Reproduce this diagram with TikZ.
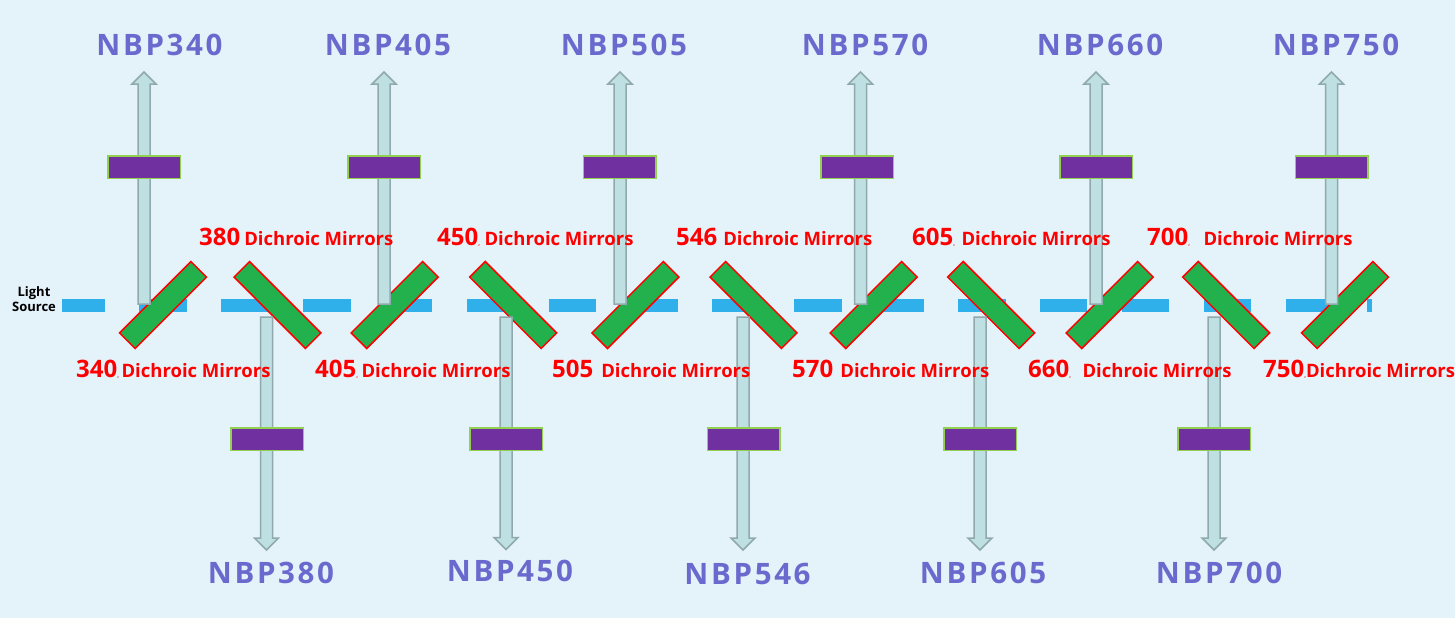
\documentclass[tikz,border=0pt]{standalone}
\usepackage{fontspec}
\setmainfont{Open Sans}
\newfontfamily\nbpfont[LetterSpace=9]{Open Sans}
\usetikzlibrary{calc}
\pgfdeclarelayer{linelayer}
\pgfdeclarelayer{mirrorlayer}
\pgfsetlayers{linelayer,mirrorlayer,main}
\definecolor{bgblue}{HTML}{E4F2FA}
\definecolor{lightblue}{HTML}{2FB0EB}
\definecolor{mirrorgreen}{HTML}{22B14C}
\definecolor{mirrorred}{HTML}{FF0000}
\definecolor{beamfill}{HTML}{BEE0E3}
\definecolor{beamrim}{HTML}{8FA9AC}
\definecolor{filterpurple}{HTML}{7030A0}
\definecolor{filterrim}{HTML}{92D050}
\definecolor{nbpblue}{HTML}{6A6ACE}
\newcommand\bandnum[1]{{\fontsize{24}{28}\selectfont #1}}
\newcommand\tinycomma{{\fontsize{6}{6}\selectfont ,}}
\tikzstyle{mirror}=[rectangle,draw=mirrorred,fill=mirrorgreen,line width=1.5pt,minimum width=101pt,minimum height=22pt,inner sep=0pt]
\tikzstyle{filter}=[rectangle,draw=filterrim,fill=filterpurple,line width=1.5pt,minimum width=72.5pt,minimum height=22.5pt,inner sep=0pt]
\tikzstyle{band}=[text=nbpblue,font=\nbpfont\bfseries\fontsize{29.5}{34}\selectfont,inner sep=0pt]
\tikzstyle{dichroic}=[text=mirrorred,font=\bfseries\fontsize{18.5}{22}\selectfont,anchor=base west,inner sep=0pt]
\tikzstyle{source}=[align=center,font=\bfseries\fontsize{13}{15.5}\selectfont,inner sep=0pt]
\tikzstyle{light}=[draw=lightblue,line width=13pt,dash pattern=on 47.5pt off 34.37pt,dash phase=4.5pt]
\tikzstyle{beam}=[draw=beamrim,fill=beamfill,line width=1.5pt,line join=miter,
	to path={-- ($(\tikztostart)!6pt!90:(\tikztotarget)$)
		-- ($($(\tikztotarget)!12pt!(\tikztostart)$)!6pt!90:(\tikztotarget)$)
		-- ($($(\tikztotarget)!12pt!(\tikztostart)$)!12pt!90:(\tikztotarget)$)
		-- (\tikztotarget)
		-- ($($(\tikztotarget)!12pt!(\tikztostart)$)!12pt!-90:(\tikztotarget)$)
		-- ($($(\tikztotarget)!12pt!(\tikztostart)$)!6pt!-90:(\tikztotarget)$)
		-- ($(\tikztostart)!6pt!-90:(\tikztotarget)$) -- cycle}]
\begin{document}
\begin{tikzpicture}[x=1pt,y=-1pt]
	\useasboundingbox (0,0) rectangle (1455,618);
	% light source and beam line
	\node [style=source] (src) at (34,299) {Light\\Source};
	\coordinate (lin) at (62,305.5);
	\coordinate (lout) at (1372,305.5);
	\begin{pgfonlayer}{linelayer}
		\fill [bgblue] (0,0) rectangle (1455,618);
		\draw [style=light] (lin) -- (lout);
	\end{pgfonlayer}
	% dichroic mirrors
	\begin{pgfonlayer}{mirrorlayer}
		\node [style=mirror, rotate=45] (m340) at (163,305) {};
		\node [style=mirror, rotate=-45] (m380) at (277.5,305) {};
		\node [style=mirror, rotate=45] (m405) at (394.7,305) {};
		\node [style=mirror, rotate=-45] (m450) at (513.2,305) {};
		\node [style=mirror, rotate=45] (m505) at (635.4,305) {};
		\node [style=mirror, rotate=-45] (m546) at (753.5,305) {};
		\node [style=mirror, rotate=45] (m570) at (873.7,305) {};
		\node [style=mirror, rotate=-45] (m605) at (991.2,305) {};
		\node [style=mirror, rotate=45] (m660) at (1109.7,305) {};
		\node [style=mirror, rotate=-45] (m700) at (1226.2,305) {};
		\node [style=mirror, rotate=45] (m750) at (1345,305) {};
	\end{pgfonlayer}
	% reflected beams
	\coordinate (f340) at (144,304);    \coordinate (t340) at (144,72);
	\coordinate (f380) at (266.5,317);  \coordinate (t380) at (266.5,550);
	\coordinate (f405) at (384,304);    \coordinate (t405) at (384,72);
	\coordinate (f450) at (506,317);    \coordinate (t450) at (506,549.5);
	\coordinate (f505) at (620,304);    \coordinate (t505) at (620,72);
	\coordinate (f546) at (743,317);    \coordinate (t546) at (743,550);
	\coordinate (f570) at (860.5,304);  \coordinate (t570) at (860.5,72);
	\coordinate (f605) at (980,317);    \coordinate (t605) at (980,550);
	\coordinate (f660) at (1096,304);   \coordinate (t660) at (1096,72);
	\coordinate (f700) at (1214,317);   \coordinate (t700) at (1214,550);
	\coordinate (f750) at (1331.5,304); \coordinate (t750) at (1331.5,72);
	\draw [style=beam] (f340) to (t340);
	\draw [style=beam] (f380) to (t380);
	\draw [style=beam] (f405) to (t405);
	\draw [style=beam] (f450) to (t450);
	\draw [style=beam] (f505) to (t505);
	\draw [style=beam] (f546) to (t546);
	\draw [style=beam] (f570) to (t570);
	\draw [style=beam] (f605) to (t605);
	\draw [style=beam] (f660) to (t660);
	\draw [style=beam] (f700) to (t700);
	\draw [style=beam] (f750) to (t750);
	% band pass filters
	\node [style=filter] (p340) at (144,167) {};
	\node [style=filter] (p380) at (267,439) {};
	\node [style=filter] (p405) at (384,167) {};
	\node [style=filter] (p450) at (506,439) {};
	\node [style=filter] (p505) at (619.5,167) {};
	\node [style=filter] (p546) at (743.5,439) {};
	\node [style=filter] (p570) at (857,167) {};
	\node [style=filter] (p605) at (980,439) {};
	\node [style=filter] (p660) at (1096,167) {};
	\node [style=filter] (p700) at (1214,439) {};
	\node [style=filter] (p750) at (1331.5,167) {};
	% filter names
	\node [style=band] (n340) at (159.5,44.5) {NBP340};
	\node [style=band] (n405) at (388,45) {NBP405};
	\node [style=band] (n505) at (624,45) {NBP505};
	\node [style=band] (n570) at (865,44.5) {NBP570};
	\node [style=band] (n660) at (1100,44.5) {NBP660};
	\node [style=band] (n750) at (1336,44.5) {NBP750};
	\node [style=band] (n380) at (271,572.5) {NBP380};
	\node [style=band] (n450) at (510,571) {NBP450};
	\node [style=band] (n546) at (747.5,573.5) {NBP546};
	\node [style=band] (n605) at (983,573) {NBP605};
	\node [style=band] (n700) at (1219,573) {NBP700};
	% mirror names
	\node [style=dichroic] (d380) at (199,245) {\bandnum{380}\hspace{4pt}Dichroic Mirrors};
	\node [style=dichroic] (d450) at (437,245) {\bandnum{450}\tinycomma\hspace{4.5pt}Dichroic Mirrors};
	\node [style=dichroic] (d546) at (676,245) {\bandnum{546}\hspace{6pt}Dichroic Mirrors};
	\node [style=dichroic] (d605) at (912,245) {\bandnum{605}\tinycomma\hspace{6.5pt}Dichroic Mirrors};
	\node [style=dichroic] (d700) at (1147,245) {\bandnum{700}\tinycomma\hspace{13.5pt}Dichroic Mirrors};
	\node [style=dichroic] (d340) at (76,377) {\bandnum{340}\tinycomma\hspace{2.5pt}Dichroic Mirrors};
	\node [style=dichroic] (d405) at (315,377) {\bandnum{405}\tinycomma\hspace{3.5pt}Dichroic Mirrors};
	\node [style=dichroic] (d505) at (552,377) {\bandnum{505}\hspace{8pt}Dichroic Mirrors};
	\node [style=dichroic] (d570) at (792,377) {\bandnum{570}\hspace{7pt}Dichroic Mirrors};
	\node [style=dichroic] (d660) at (1028,377) {\bandnum{660}\tinycomma\hspace{11.5pt}Dichroic Mirrors};
	\node [style=dichroic] (d750) at (1263,377) {\bandnum{750}\tinycomma Dichroic Mirrors};
\end{tikzpicture}
\end{document}
